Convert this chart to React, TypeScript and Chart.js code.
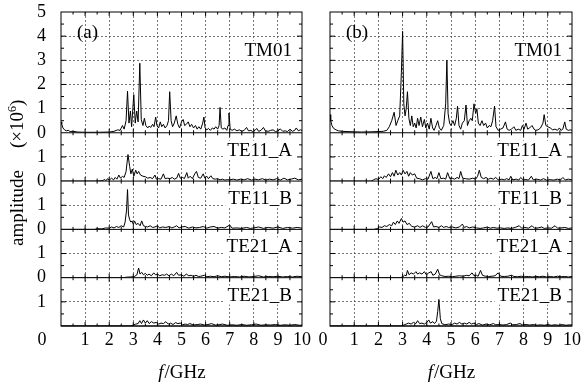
import React, { useEffect, useRef } from 'react';
import { Chart, registerables } from 'chart.js';

Chart.register(...registerables);

const SERIF = "'Liberation Serif', 'Times New Roman', serif";

const MODES = ['TM01', 'TE11_A', 'TE11_B', 'TE21_A', 'TE21_B'];
const MODE_MAX = [5, 2, 2, 2, 2];
const MODE_TICK_LABELS = [[0, 1, 2, 3, 4, 5], [0, 1], [0, 1], [0, 1], [1]];
const FREQ_TICKS = [0, 1, 2, 3, 4, 5, 6, 7, 8, 9, 10];
const PANEL_LETTERS = ['(a)', '(b)'];

// [frequency GHz, amplitude x1e6]
const TM01_a = [[0,0.45],[0.03,0.35],[0.08,0.2],[0.15,0.12],[0.22,0.08],[0.3,0.1],[0.38,0.05],[0.5,0.06],[0.7,0.03],[1.0,0.02],[1.5,0.02],[2.0,0.03],[2.2,0.06],[2.35,0.12],[2.45,0.1],[2.55,0.3],[2.62,0.15],[2.7,0.5],[2.76,1.72],[2.82,0.4],[2.88,0.9],[2.93,0.25],[3.02,1.58],[3.08,0.4],[3.14,0.9],[3.2,0.45],[3.27,2.88],[3.33,0.55],[3.4,0.3],[3.46,0.6],[3.52,0.3],[3.6,0.2],[3.66,0.28],[3.72,0.22],[3.8,0.35],[3.86,0.25],[3.93,0.65],[3.98,0.3],[4.05,0.2],[4.12,0.45],[4.18,0.25],[4.25,0.35],[4.32,0.2],[4.4,0.3],[4.46,0.5],[4.51,1.7],[4.57,0.5],[4.63,0.25],[4.7,0.4],[4.78,0.7],[4.85,0.35],[4.92,0.2],[5.0,0.45],[5.07,0.55],[5.13,0.3],[5.2,0.35],[5.28,0.45],[5.35,0.25],[5.42,0.35],[5.5,0.2],[5.58,0.3],[5.65,0.15],[5.72,0.25],[5.8,0.15],[5.88,0.4],[5.93,0.65],[5.98,0.2],[6.05,0.12],[6.12,0.18],[6.2,0.1],[6.28,0.2],[6.35,0.15],[6.42,0.25],[6.5,0.15],[6.56,0.3],[6.6,1.05],[6.65,0.2],[6.72,0.15],[6.8,0.2],[6.88,0.1],[6.93,0.3],[6.97,0.82],[7.02,0.15],[7.1,0.1],[7.2,0.15],[7.3,0.08],[7.4,0.12],[7.5,0.06],[7.6,0.1],[7.7,0.22],[7.78,0.08],[7.88,0.1],[7.95,0.05],[8.05,0.1],[8.12,0.18],[8.2,0.06],[8.3,0.1],[8.4,0.22],[8.48,0.08],[8.6,0.06],[8.7,0.1],[8.8,0.12],[8.9,0.05],[9.0,0.08],[9.1,0.16],[9.2,0.06],[9.3,0.08],[9.4,0.05],[9.5,0.15],[9.6,0.06],[9.7,0.1],[9.76,0.2],[9.85,0.08],[9.93,0.12],[10,0.1]];
const TE11A_a = [[0,0],[1.5,0],[1.75,0.02],[1.8,0.08],[1.85,0.02],[1.95,0.1],[2.0,0.04],[2.1,0.12],[2.18,0.05],[2.25,0.15],[2.32,0.08],[2.4,0.25],[2.47,0.12],[2.55,0.2],[2.62,0.15],[2.7,0.4],[2.78,1.1],[2.85,0.6],[2.9,0.3],[2.96,0.5],[3.02,0.2],[3.1,0.45],[3.16,0.3],[3.22,0.4],[3.3,0.25],[3.4,0.2],[3.5,0.18],[3.6,0.12],[3.7,0.15],[3.8,0.1],[3.9,0.25],[3.96,0.08],[4.05,0.1],[4.15,0.08],[4.25,0.3],[4.32,0.1],[4.42,0.12],[4.52,0.1],[4.62,0.15],[4.7,0.08],[4.8,0.12],[4.88,0.32],[4.95,0.12],[5.05,0.15],[5.12,0.1],[5.22,0.35],[5.28,0.12],[5.36,0.2],[5.45,0.1],[5.55,0.3],[5.62,0.4],[5.7,0.15],[5.8,0.12],[5.9,0.3],[5.97,0.12],[6.05,0.2],[6.12,0.1],[6.22,0.22],[6.3,0.1],[6.4,0.08],[6.5,0.1],[6.6,0.05],[6.7,0.08],[6.8,0.04],[6.9,0.06],[7.0,0.05],[7.15,0.08],[7.3,0.04],[7.45,0.08],[7.6,0.05],[7.75,0.1],[7.9,0.04],[8.05,0.08],[8.2,0.05],[8.35,0.1],[8.5,0.04],[8.65,0.08],[8.8,0.05],[8.95,0.1],[9.1,0.04],[9.25,0.12],[9.4,0.05],[9.55,0.08],[9.7,0.12],[9.85,0.05],[10,0.08]];
const TE11B_a = [[0,0],[1.4,0],[1.5,0.03],[1.7,0.02],[1.85,0.06],[2.0,0.05],[2.1,0.1],[2.2,0.06],[2.3,0.12],[2.4,0.08],[2.5,0.15],[2.6,0.1],[2.66,0.3],[2.72,0.8],[2.76,1.65],[2.8,0.6],[2.85,0.4],[2.9,0.3],[2.95,0.35],[3.0,0.2],[3.05,0.35],[3.12,0.2],[3.2,0.25],[3.28,0.15],[3.35,0.35],[3.42,0.15],[3.5,0.12],[3.6,0.1],[3.7,0.15],[3.8,0.08],[3.9,0.1],[4.0,0.15],[4.1,0.06],[4.2,0.1],[4.35,0.08],[4.5,0.12],[4.6,0.06],[4.7,0.1],[4.8,0.15],[4.9,0.06],[5.0,0.1],[5.15,0.12],[5.3,0.05],[5.45,0.1],[5.6,0.06],[5.75,0.08],[5.9,0.12],[6.05,0.05],[6.2,0.1],[6.35,0.12],[6.5,0.05],[6.65,0.08],[6.8,0.06],[7.0,0.18],[7.1,0.05],[7.3,0.06],[7.5,0.04],[7.7,0.08],[7.85,0.04],[8.0,0.06],[8.2,0.1],[8.4,0.04],[8.6,0.08],[8.8,0.05],[9.0,0.1],[9.2,0.04],[9.4,0.08],[9.6,0.05],[9.8,0.08],[10,0.05]];
const TE21A_a = [[0,0],[2.6,0],[2.7,0.02],[2.9,0.03],[3.05,0.05],[3.15,0.12],[3.22,0.4],[3.28,0.15],[3.35,0.22],[3.42,0.12],[3.5,0.18],[3.58,0.1],[3.65,0.15],[3.75,0.08],[3.85,0.2],[3.92,0.12],[4.0,0.15],[4.1,0.08],[4.2,0.12],[4.3,0.1],[4.38,0.15],[4.48,0.08],[4.58,0.15],[4.68,0.08],[4.8,0.22],[4.88,0.1],[4.98,0.12],[5.1,0.06],[5.2,0.15],[5.3,0.08],[5.4,0.1],[5.5,0.05],[5.6,0.1],[5.7,0.05],[5.8,0.06],[5.95,0.1],[6.05,0.04],[6.2,0.06],[6.35,0.04],[6.5,0.08],[6.65,0.04],[6.8,0.06],[7.0,0.03],[7.2,0.05],[7.4,0.03],[7.6,0.06],[7.8,0.03],[8.0,0.05],[8.2,0.08],[8.4,0.03],[8.6,0.05],[8.8,0.04],[9.0,0.06],[9.2,0.03],[9.4,0.05],[9.6,0.03],[9.8,0.06],[10,0.04]];
const TE21B_a = [[0,0],[2.9,0],[3.0,0.04],[3.1,0.08],[3.2,0.1],[3.27,0.22],[3.34,0.1],[3.42,0.25],[3.5,0.12],[3.58,0.22],[3.66,0.1],[3.75,0.18],[3.85,0.12],[3.95,0.15],[4.05,0.08],[4.15,0.12],[4.25,0.1],[4.35,0.18],[4.45,0.08],[4.55,0.12],[4.65,0.06],[4.75,0.14],[4.85,0.1],[4.95,0.12],[5.05,0.05],[5.15,0.08],[5.25,0.06],[5.35,0.1],[5.5,0.04],[5.65,0.06],[5.8,0.08],[5.95,0.04],[6.1,0.06],[6.25,0.1],[6.4,0.04],[6.55,0.05],[6.7,0.08],[6.9,0.03],[7.1,0.05],[7.3,0.03],[7.5,0.06],[7.7,0.03],[7.9,0.05],[8.1,0.08],[8.3,0.03],[8.5,0.05],[8.7,0.04],[8.9,0.06],[9.1,0.03],[9.3,0.05],[9.5,0.03],[9.7,0.06],[9.9,0.03],[10,0.04]];

const TM01_b = [[0,0.75],[0.03,0.5],[0.08,0.3],[0.15,0.18],[0.25,0.12],[0.35,0.08],[0.5,0.06],[0.7,0.05],[1.0,0.04],[1.3,0.03],[1.7,0.04],[2.0,0.05],[2.2,0.06],[2.35,0.1],[2.45,0.25],[2.55,0.5],[2.65,0.85],[2.73,0.3],[2.8,0.5],[2.88,0.7],[2.95,2.5],[3.0,4.2],[3.05,1.2],[3.1,0.7],[3.15,1.0],[3.2,1.7],[3.26,0.6],[3.32,0.3],[3.38,0.7],[3.44,0.25],[3.5,0.4],[3.56,0.2],[3.62,0.6],[3.68,0.3],[3.75,0.65],[3.82,0.25],[3.9,0.55],[3.96,0.2],[4.03,0.4],[4.1,0.15],[4.17,0.6],[4.24,0.2],[4.3,0.1],[4.38,0.3],[4.45,0.5],[4.52,0.2],[4.6,0.1],[4.7,0.3],[4.78,1.2],[4.83,3.0],[4.88,0.8],[4.94,0.4],[5.0,0.3],[5.08,0.5],[5.15,0.3],[5.22,0.6],[5.27,1.1],[5.33,0.3],[5.4,0.15],[5.47,0.4],[5.55,0.5],[5.62,1.15],[5.68,0.3],[5.75,0.5],[5.82,0.6],[5.88,0.5],[5.95,1.2],[6.02,0.8],[6.07,1.0],[6.13,0.4],[6.2,0.3],[6.28,0.5],[6.35,0.3],[6.43,0.4],[6.5,0.2],[6.58,0.3],[6.65,0.25],[6.72,0.5],[6.8,1.1],[6.86,0.25],[6.95,0.1],[7.05,0.15],[7.15,0.2],[7.25,0.45],[7.32,0.15],[7.4,0.1],[7.5,0.15],[7.6,0.25],[7.68,0.1],[7.78,0.15],[7.88,0.1],[7.95,0.3],[8.02,0.15],[8.1,0.4],[8.17,0.15],[8.25,0.2],[8.35,0.3],[8.43,0.15],[8.5,0.1],[8.6,0.12],[8.7,0.2],[8.8,0.4],[8.85,0.75],[8.92,0.3],[9.0,0.25],[9.1,0.2],[9.2,0.12],[9.3,0.15],[9.4,0.1],[9.48,0.2],[9.55,0.1],[9.62,0.15],[9.7,0.45],[9.76,0.15],[9.85,0.1],[9.93,0.12],[10,0.1]];
const TE11A_b = [[0,0],[1.7,0],[1.8,0.05],[1.9,0.1],[2.0,0.06],[2.1,0.18],[2.18,0.1],[2.25,0.22],[2.32,0.15],[2.42,0.3],[2.5,0.18],[2.58,0.35],[2.65,0.2],[2.72,0.45],[2.8,0.25],[2.88,0.35],[2.95,0.25],[3.02,0.45],[3.1,0.3],[3.18,0.4],[3.25,0.2],[3.32,0.35],[3.4,0.25],[3.5,0.3],[3.58,0.12],[3.7,0.1],[3.82,0.05],[3.95,0.1],[4.05,0.08],[4.17,0.4],[4.25,0.1],[4.35,0.15],[4.42,0.1],[4.5,0.35],[4.58,0.1],[4.7,0.12],[4.78,0.08],[4.86,0.35],[4.95,0.1],[5.05,0.12],[5.15,0.08],[5.25,0.15],[5.33,0.1],[5.4,0.4],[5.48,0.12],[5.6,0.1],[5.75,0.08],[5.9,0.12],[6.02,0.08],[6.1,0.2],[6.17,0.45],[6.25,0.15],[6.35,0.1],[6.45,0.15],[6.55,0.08],[6.65,0.12],[6.75,0.08],[6.85,0.15],[6.95,0.05],[7.1,0.08],[7.2,0.05],[7.3,0.1],[7.4,0.05],[7.47,0.2],[7.55,0.05],[7.7,0.08],[7.8,0.04],[7.88,0.15],[7.98,0.05],[8.1,0.06],[8.2,0.04],[8.32,0.2],[8.4,0.05],[8.55,0.08],[8.7,0.04],[8.82,0.1],[8.95,0.04],[9.1,0.06],[9.25,0.04],[9.4,0.08],[9.52,0.04],[9.62,0.15],[9.72,0.05],[9.85,0.08],[10,0.05]];
const TE11B_b = [[0,0],[1.8,0],[1.95,0.03],[2.05,0.1],[2.15,0.08],[2.25,0.15],[2.35,0.12],[2.45,0.2],[2.55,0.15],[2.62,0.3],[2.7,0.2],[2.78,0.35],[2.85,0.25],[2.95,0.45],[3.02,0.3],[3.1,0.35],[3.18,0.2],[3.28,0.25],[3.38,0.12],[3.5,0.1],[3.62,0.15],[3.72,0.08],[3.82,0.15],[3.95,0.08],[4.05,0.1],[4.2,0.32],[4.28,0.1],[4.38,0.12],[4.5,0.08],[4.6,0.15],[4.7,0.08],[4.8,0.12],[4.9,0.08],[5.05,0.1],[5.2,0.06],[5.35,0.1],[5.47,0.22],[5.55,0.08],[5.65,0.12],[5.75,0.06],[5.9,0.1],[6.05,0.06],[6.2,0.04],[6.35,0.06],[6.5,0.1],[6.62,0.05],[6.75,0.08],[6.9,0.05],[7.05,0.06],[7.2,0.04],[7.35,0.06],[7.5,0.04],[7.65,0.08],[7.82,0.15],[7.92,0.05],[8.05,0.08],[8.2,0.05],[8.35,0.15],[8.45,0.05],[8.6,0.06],[8.75,0.1],[8.85,0.04],[9.0,0.06],[9.15,0.05],[9.3,0.15],[9.4,0.05],[9.55,0.06],[9.7,0.08],[9.85,0.04],[10,0.06]];
const TE21A_b = [[0,0],[2.9,0],[3.0,0.03],[3.08,0.1],[3.15,0.08],[3.2,0.3],[3.27,0.12],[3.35,0.2],[3.45,0.15],[3.55,0.25],[3.62,0.15],[3.7,0.2],[3.8,0.15],[3.9,0.25],[3.98,0.12],[4.08,0.2],[4.18,0.25],[4.25,0.1],[4.35,0.15],[4.45,0.35],[4.53,0.12],[4.62,0.08],[4.75,0.05],[4.9,0.06],[5.05,0.04],[5.2,0.06],[5.35,0.08],[5.5,0.06],[5.65,0.1],[5.75,0.08],[5.87,0.2],[5.95,0.08],[6.05,0.1],[6.12,0.06],[6.22,0.3],[6.3,0.1],[6.42,0.06],[6.55,0.05],[6.7,0.06],[6.82,0.08],[6.95,0.2],[7.05,0.06],[7.2,0.05],[7.35,0.06],[7.5,0.1],[7.6,0.05],[7.75,0.04],[7.9,0.06],[8.05,0.04],[8.2,0.05],[8.35,0.03],[8.5,0.05],[8.65,0.04],[8.8,0.06],[8.95,0.03],[9.1,0.05],[9.25,0.03],[9.4,0.06],[9.55,0.04],[9.7,0.05],[9.85,0.03],[10,0.05]];
const TE21B_b = [[0,0],[2.95,0],[3.05,0.04],[3.15,0.08],[3.25,0.12],[3.35,0.08],[3.45,0.15],[3.55,0.1],[3.62,0.22],[3.7,0.1],[3.8,0.12],[3.9,0.08],[4.0,0.15],[4.08,0.25],[4.15,0.12],[4.25,0.18],[4.32,0.1],[4.4,0.2],[4.45,0.6],[4.5,1.1],[4.56,0.3],[4.62,0.1],[4.75,0.05],[4.9,0.08],[5.05,0.06],[5.15,0.12],[5.25,0.08],[5.35,0.15],[5.45,0.08],[5.55,0.12],[5.65,0.08],[5.75,0.15],[5.85,0.08],[5.95,0.12],[6.05,0.06],[6.15,0.1],[6.3,0.04],[6.45,0.08],[6.6,0.05],[6.75,0.1],[6.85,0.05],[7.0,0.06],[7.15,0.04],[7.3,0.06],[7.45,0.12],[7.55,0.05],[7.7,0.06],[7.85,0.1],[7.95,0.05],[8.1,0.06],[8.25,0.04],[8.4,0.06],[8.55,0.03],[8.7,0.05],[8.85,0.03],[9.0,0.06],[9.15,0.03],[9.3,0.05],[9.45,0.03],[9.6,0.06],[9.75,0.03],[9.9,0.05],[10,0.04]];

const SERIES_A = [TM01_a, TE11A_a, TE11B_a, TE21A_a, TE21B_a];
const SERIES_B = [TM01_b, TE11A_b, TE11B_b, TE21A_b, TE21B_b];

const GRID_COLOR = '#555555';
const CLEAR = 'rgba(0,0,0,0)';
const TICK_FONT = 18;

function decorPlugin(letter: string, isLeft: boolean) {
  return {
    id: 'decor' + letter,
    afterDatasetsDraw(chart: any) {
      const ctx = chart.ctx as CanvasRenderingContext2D;
      const a = chart.chartArea;
      const xs = chart.scales.x;
      ctx.save();
      ctx.setLineDash([]);
      // mode labels with white background
      ctx.font = `19px ${SERIF}`;
      MODES.forEach((m, i) => {
        const ys = chart.scales['y' + i];
        const w = ctx.measureText(m).width;
        const bx = a.right - 10 - w;
        const base = ys.top + (i === 0 ? 44 : 23);
        ctx.fillStyle = '#fff';
        ctx.fillRect(bx - 3, base - 15, a.right - 1 - (bx - 3), 19);
        ctx.fillStyle = '#000';
        ctx.textAlign = 'left';
        ctx.textBaseline = 'alphabetic';
        ctx.fillText(m, bx, base);
      });
      // panel letter
      ctx.fillText(letter, a.left + 16, a.top + 26);

      // frame and separators
      ctx.strokeStyle = '#000';
      ctx.lineWidth = 1;
      const line = (x1: number, y1: number, x2: number, y2: number) => {
        ctx.beginPath();
        ctx.moveTo(x1, y1);
        ctx.lineTo(x2, y2);
        ctx.stroke();
      };
      ctx.strokeRect(a.left, a.top, a.right - a.left, a.bottom - a.top);
      MODES.forEach((m, i) => {
        const ys = chart.scales['y' + i];
        const yb = ys.getPixelForValue(0);
        line(a.left, yb, a.right, yb);
        for (let v = 0.5; v < MODE_MAX[i]; v += 0.5) {
          const y = ys.getPixelForValue(v);
          const len = Number.isInteger(v) ? 5 : 3;
          line(a.left, y, a.left + len, y);
          line(a.right, y, a.right - len, y);
        }
        for (let f = 0.5; f < 10; f += 0.5) {
          const x = xs.getPixelForValue(f);
          const len = Number.isInteger(f) ? 4 : 2.5;
          line(x, ys.top, x, ys.top + len);
          line(x, ys.bottom, x, ys.bottom - len);
        }
      });

      // x "0" label shifted
      ctx.fillStyle = '#000';
      ctx.font = `${TICK_FONT}px ${SERIF}`;
      ctx.textAlign = 'center';
      ctx.textBaseline = 'middle';
      ctx.fillText('0', xs.getPixelForValue(0) - (isLeft ? 19 : 7), a.bottom + 3 + TICK_FONT * 0.6);

      // x title f/GHz
      ctx.textBaseline = 'alphabetic';
      ctx.textAlign = 'left';
      ctx.font = `italic 19px ${SERIF}`;
      const wf = ctx.measureText('f').width;
      ctx.font = `19px ${SERIF}`;
      const wr = ctx.measureText('/GHz').width;
      const cx = (a.left + a.right) / 2;
      const sx = cx - (wf + wr) / 2;
      ctx.font = `italic 19px ${SERIF}`;
      ctx.fillText('f', sx, 378);
      ctx.font = `19px ${SERIF}`;
      ctx.fillText('/GHz', sx + wf + 1, 378);

      if (isLeft) {
        // y title
        ctx.save();
        ctx.translate(23, 246);
        ctx.rotate(-Math.PI / 2);
        ctx.font = `19px ${SERIF}`;
        ctx.textAlign = 'left';
        ctx.textBaseline = 'alphabetic';
        const t1 = 'amplitude';
        ctx.fillText(t1, 0, 0);
        let px = ctx.measureText(t1).width + 22;
        const t2 = '(\u00D710';
        ctx.fillText(t2, px, 0);
        px += ctx.measureText(t2).width;
        ctx.font = `12px ${SERIF}`;
        ctx.fillText('6', px, -7);
        px += ctx.measureText('6').width;
        ctx.font = `19px ${SERIF}`;
        ctx.fillText(')', px, 0);
        ctx.restore();
      }
      ctx.restore();
    },
  };
}

function buildConfig(series: number[][][], letter: string, isLeft: boolean): any {
  const scales: any = {
    x: {
      type: 'linear',
      position: 'bottom',
      min: FREQ_TICKS[0],
      max: FREQ_TICKS[FREQ_TICKS.length - 1],
      afterBuildTicks: (s: any) => {
        s.ticks = FREQ_TICKS.map((v) => ({ value: v }));
      },
      ticks: {
        autoSkip: false,
        maxRotation: 0,
        padding: 3,
        color: '#000',
        font: { family: SERIF, size: TICK_FONT },
        callback: (v: number) => (v === 0 ? '' : String(v)),
      },
      grid: {
        drawTicks: false,
        lineWidth: 0.8,
        color: (c: any) => (c.tick && (c.tick.value === 0 || c.tick.value === 10) ? CLEAR : GRID_COLOR),
      },
      border: { display: false, dash: [2, 2] },
      afterFit: (s: any) => {
        s.height = 64;
        s.paddingLeft = 0;
        s.paddingRight = 0;
      },
    },
  };
  // add from bottom to top so TM01 is stacked on top
  for (let i = MODES.length - 1; i >= 0; i--) {
    const max = MODE_MAX[i];
    const labels = MODE_TICK_LABELS[i];
    scales['y' + i] = {
      type: 'linear',
      position: 'left',
      stack: 'modes',
      stackWeight: max,
      min: 0,
      max: max,
      ticks: {
        stepSize: 1,
        autoSkip: false,
        display: isLeft,
        padding: 15,
        color: '#000',
        font: { family: SERIF, size: TICK_FONT },
        callback: (v: number) => (labels.includes(v) ? String(v) : ''),
      },
      grid: {
        drawTicks: false,
        lineWidth: 0.8,
        color: (c: any) => (c.tick && (c.tick.value === 0 || c.tick.value === max) ? CLEAR : GRID_COLOR),
      },
      border: { display: false, dash: [2, 2] },
      afterFit: (s: any) => {
        s.width = isLeft ? 61 : 0;
        s.paddingTop = 0;
        s.paddingBottom = 0;
      },
    };
  }
  return {
    type: 'line',
    data: {
      datasets: series.map((pts, i) => ({
        label: MODES[i],
        data: pts.map(([f, v]) => ({ x: f, y: v })),
        xAxisID: 'x',
        yAxisID: 'y' + i,
        borderColor: '#000',
        borderWidth: 1,
        pointRadius: 0,
        fill: false,
        tension: 0,
      })),
    },
    options: {
      responsive: false,
      maintainAspectRatio: false,
      animation: false,
      events: [],
      layout: {
        padding: isLeft
          ? { left: 0, right: 282, top: 12, bottom: 0 }
          : { left: 330, right: 12, top: 12, bottom: 0 },
      },
      plugins: { legend: { display: false }, tooltip: { enabled: false } },
      scales,
    },
    plugins: [decorPlugin(letter, isLeft)],
  };
}

export default function App() {
  const refA = useRef<HTMLCanvasElement>(null);
  const refB = useRef<HTMLCanvasElement>(null);
  useEffect(() => {
    const ca = new Chart(refA.current as HTMLCanvasElement, buildConfig(SERIES_A, PANEL_LETTERS[0], true));
    const cb = new Chart(refB.current as HTMLCanvasElement, buildConfig(SERIES_B, PANEL_LETTERS[1], false));
    return () => {
      ca.destroy();
      cb.destroy();
    };
  }, []);
  const cs: React.CSSProperties = { position: 'absolute', left: 0, top: 0, width: 584, height: 390 };
  return (
    <div style={{ position: 'absolute', left: 0, top: 0, width: 584, height: 390, background: '#fff' }}>
      <canvas ref={refA} width={584} height={390} style={cs} />
      <canvas ref={refB} width={584} height={390} style={cs} />
    </div>
  );
}
